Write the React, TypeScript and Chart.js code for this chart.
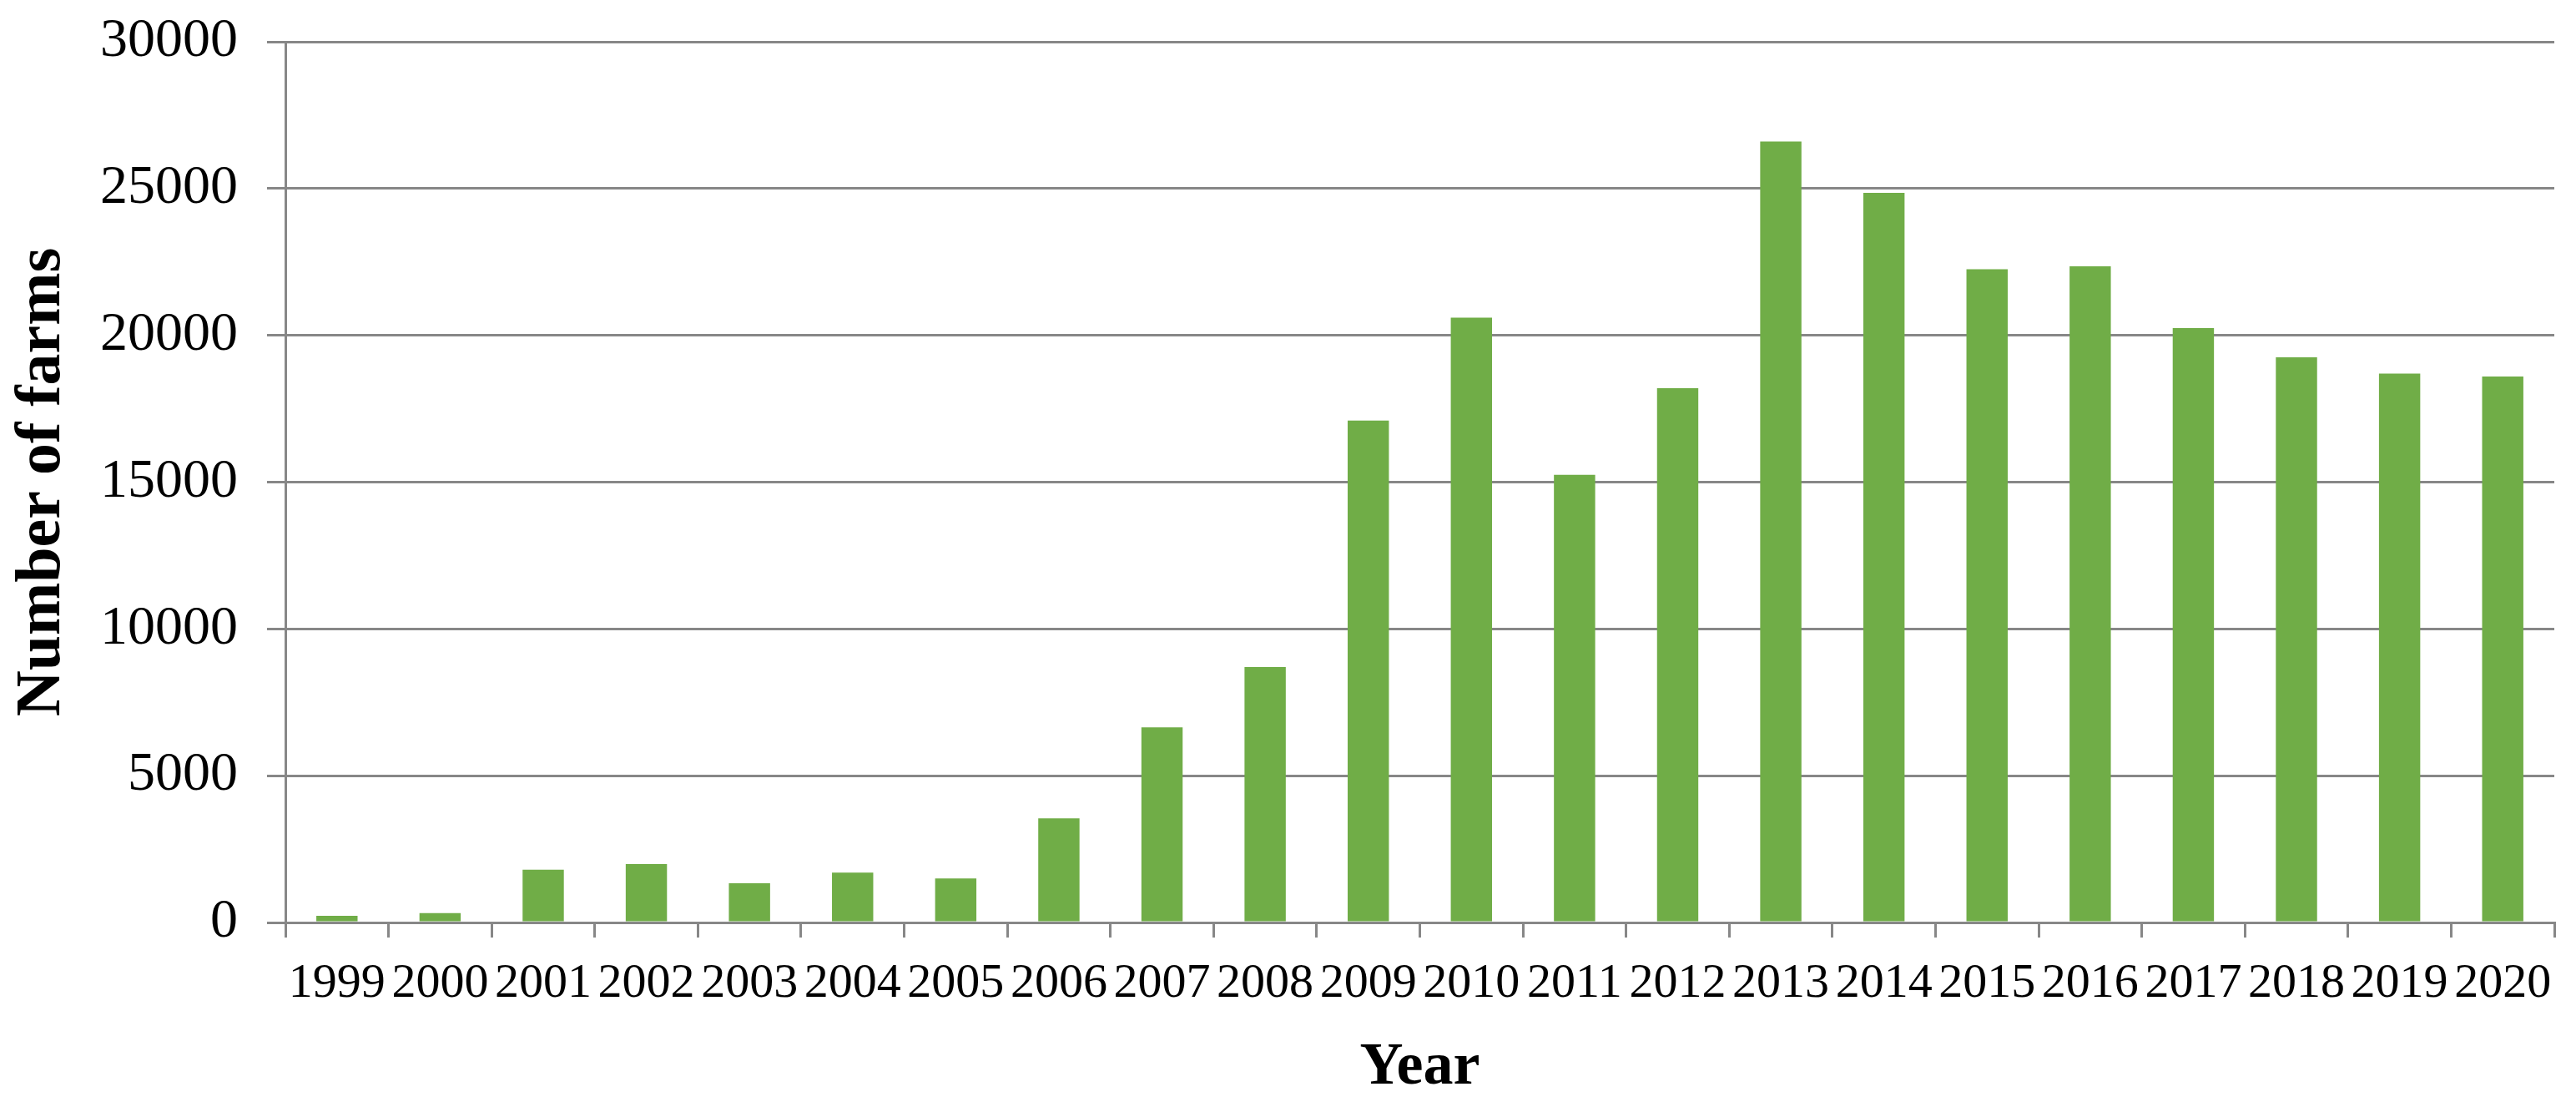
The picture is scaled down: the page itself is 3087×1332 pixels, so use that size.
import React, { useEffect, useRef } from "react";
import { Chart, registerables } from "chart.js";

Chart.register(...registerables);

const years: string[] = [
  "1999", "2000", "2001", "2002", "2003", "2004", "2005", "2006", "2007", "2008", "2009",
  "2010", "2011", "2012", "2013", "2014", "2015", "2016", "2017", "2018", "2019", "2020",
];

const farms: number[] = [
  230, 320, 1800, 1990, 1340, 1700, 1500, 3550, 6650, 8700, 17100,
  20600, 15250, 18200, 26600, 24850, 22250, 22350, 20250, 19250, 18700, 18600,
];

const yMin = 0;
const yMax = 30000;
const yStep = 5000;

const xTitle = "Year";
const yTitle = "Number of farms";

const W = 3087;
const H = 1332;
const FONT = "'Liberation Serif', 'Times New Roman', serif";
const GRID = "#878787";
const BAR = "#70AD47";

export default function App() {
  const ref = useRef<HTMLCanvasElement | null>(null);

  useEffect(() => {
    const canvas = ref.current;
    if (!canvas) return;
    const chart = new Chart(canvas, {
      type: "bar",
      data: {
        labels: years,
        datasets: [
          {
            label: yTitle,
            data: farms,
            backgroundColor: BAR,
            borderWidth: 0,
            barPercentage: 1,
            categoryPercentage: 0.4,
          },
        ],
      },
      options: {
        responsive: false,
        animation: false,
        devicePixelRatio: 1,
        layout: { padding: { top: 50, right: 26, bottom: 0, left: 0 } },
        plugins: {
          legend: { display: false },
          tooltip: { enabled: false },
          title: { display: false },
        },
        scales: {
          x: {
            type: "category",
            afterFit: (scale: any) => {
              scale.height = 227;
              scale.paddingLeft = 0;
              scale.paddingRight = 0;
            },
            grid: {
              display: true,
              offset: true,
              drawOnChartArea: false,
              drawTicks: true,
              tickLength: 18,
              color: GRID,
              lineWidth: 3,
            },
            border: { display: true, color: GRID, width: 3 },
            ticks: {
              autoSkip: false,
              maxRotation: 0,
              minRotation: 0,
              padding: 21,
              color: "#000",
              font: { family: FONT, size: 58 },
            },
            title: {
              display: true,
              text: xTitle,
              color: "#000",
              font: { family: FONT, size: 72, weight: "bold" },
              padding: { top: 0, bottom: 9 },
            },
          },
          y: {
            min: yMin,
            max: yMax,
            afterFit: (scale: any) => {
              scale.width = 342;
              scale.paddingTop = 0;
              scale.paddingBottom = 0;
            },
            grid: {
              display: true,
              drawOnChartArea: true,
              drawTicks: true,
              tickLength: 22,
              color: GRID,
              lineWidth: 3,
            },
            border: { display: true, color: GRID, width: 3 },
            ticks: {
              stepSize: yStep,
              padding: 35,
              color: "#000",
              font: { family: FONT, size: 66 },
              callback: (v: any) => String(v),
            },
            title: {
              display: true,
              text: yTitle,
              color: "#000",
              font: { family: FONT, size: 76, weight: "bold" },
              padding: { top: 6, bottom: 0 },
            },
          },
        },
      },
    });
    return () => chart.destroy();
  }, []);

  return (
    <div style={{ position: "absolute", left: 0, top: 0, width: W, height: H, background: "#fff" }}>
      <canvas ref={ref} width={W} height={H} style={{ display: "block", width: W, height: H }} />
    </div>
  );
}
